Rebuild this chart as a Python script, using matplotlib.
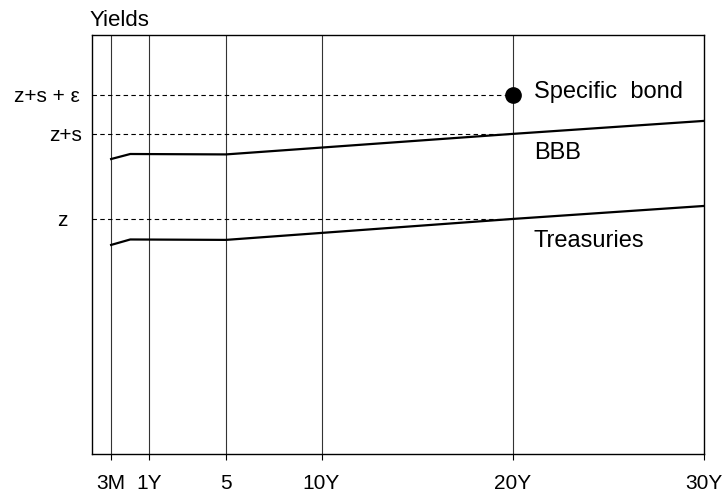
import matplotlib.pyplot as plt
from matplotlib.transforms import blended_transform_factory

plt.rcParams['font.family'] = ['Liberation Sans', 'DejaVu Sans']

# maturities (years, 3M placed on a stretched scale like the drawing)
tick_pos = [-1.0, 1.0, 5.0, 10.0, 20.0, 30.0]
tick_labels = ['3M', '1Y', '5', '10Y', '20Y', '30Y']

# curve points
curve_x = [-1.0, 0.0, 5.0, 20.0, 30.0]
bbb = [7.04, 7.16, 7.15, 7.64, 7.95]
treasuries = [4.99, 5.12, 5.11, 5.61, 5.92]

# reference levels
level_names = ['z', 'z+s', 'z+s + \u03b5']
level_values = [5.61, 7.64, 8.56]
level_label_right = [68, 82, 80]   # pixel x where each label ends
bond_x, bond_y = 20.0, 8.56

fig = plt.figure(figsize=(7.27, 4.98), dpi=100)
ax = fig.add_axes([92/727, 1 - 454/498, (704-92)/727, (454-35)/498])
ax.set_xlim(-2, 30)
ax.set_ylim(0, 10)

for x in tick_pos[:-1]:
    ax.axvline(x, color='#333333', lw=0.8, zorder=1)

for v in level_values:
    ax.plot([-2, bond_x], [v, v], color='black', lw=0.8, dashes=(4, 3), zorder=1)

ax.plot(curve_x, bbb, color='black', lw=1.6, zorder=3)
ax.plot(curve_x, treasuries, color='black', lw=1.6, zorder=3)
ax.plot([bond_x], [bond_y], 'o', color='black', ms=11, zorder=4)

ax.text(21.1, 8.50, 'Specific  bond', fontsize=17, va='baseline', ha='left')
ax.text(21.1, 7.04, 'BBB', fontsize=17, va='baseline', ha='left')
ax.text(21.1, 4.94, 'Treasuries', fontsize=17, va='baseline', ha='left')

ax.set_xticks(tick_pos)
ax.set_xticklabels(tick_labels, fontsize=15)
ax.tick_params(axis='x', direction='out', length=4.3, width=0.8, pad=10)

ax.set_yticks([])
trans = blended_transform_factory(fig.transFigure, ax.transData)
for name, v, xr in zip(level_names, level_values, level_label_right):
    ax.text(xr/727, v - 0.17, name, fontsize=15, ha='right', va='baseline',
            transform=trans, clip_on=False)

for s in ax.spines.values():
    s.set_linewidth(1.0)

fig.text(90/727, 1 - 26/498, 'Yields', fontsize=16, ha='left', va='baseline')

fig.savefig('out.png', dpi=100)
